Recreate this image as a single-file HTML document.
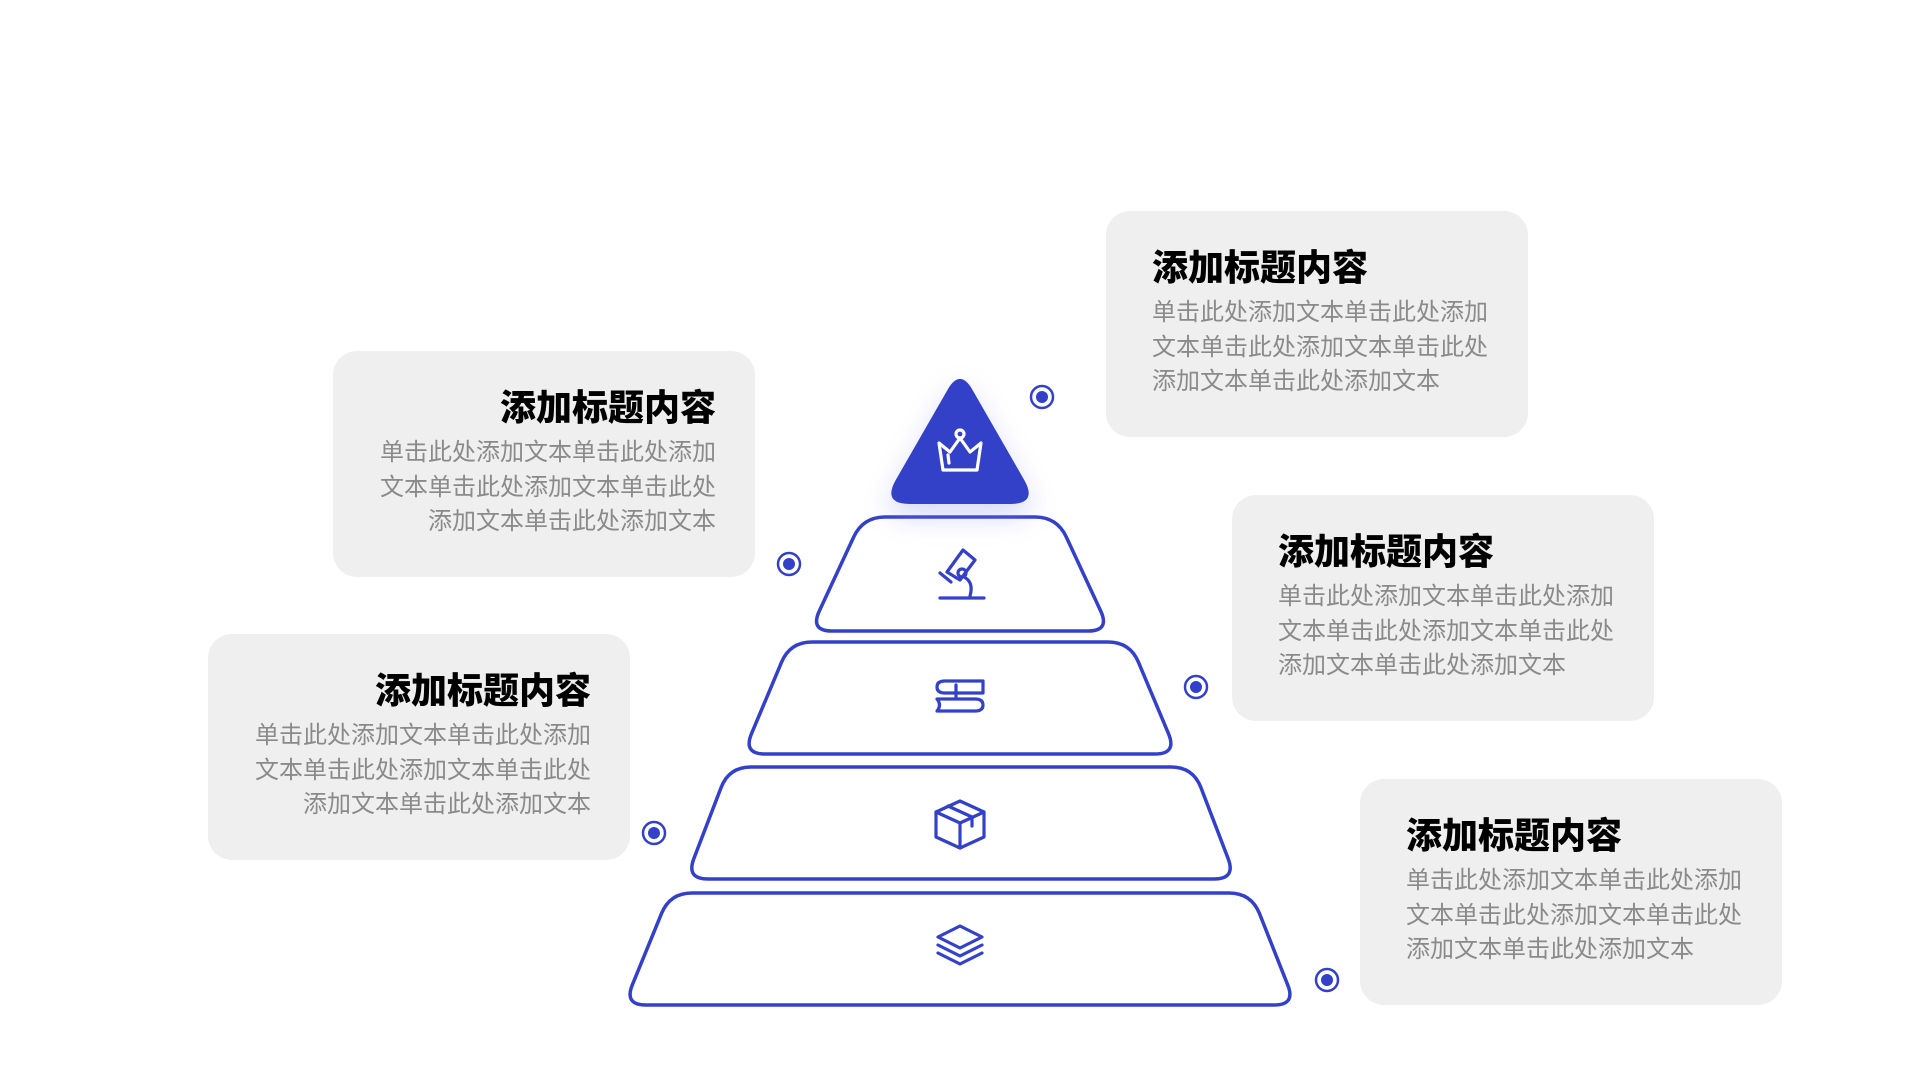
<!DOCTYPE html>
<html><head><meta charset="utf-8"><style>
body{margin:0;width:1920px;height:1080px;background:#fff;position:relative;overflow:hidden;font-family:"Liberation Sans","Noto Sans CJK SC",sans-serif}
.card{position:absolute;background:#efefef;border-radius:24px;width:422px;height:226px;box-sizing:border-box}
.card h3{position:absolute;margin:0;font-size:36px;font-weight:900;color:#000;top:35px;line-height:44px;white-space:nowrap}
.card p{position:absolute;margin:0;font-size:24px;color:#8a8a8a;top:85px;line-height:34.5px;white-space:nowrap}
.l h3,.l p{right:39px;text-align:right}
.r h3,.r p{left:46px}
</style></head><body>
<div class="card r" style="left:1106px;top:211px"><h3>添加标题内容</h3><p>单击此处添加文本单击此处添加<br>文本单击此处添加文本单击此处<br>添加文本单击此处添加文本</p></div>
<div class="card l" style="left:333px;top:351px"><h3>添加标题内容</h3><p>单击此处添加文本单击此处添加<br>文本单击此处添加文本单击此处<br>添加文本单击此处添加文本</p></div>
<div class="card r" style="left:1232px;top:495px"><h3>添加标题内容</h3><p>单击此处添加文本单击此处添加<br>文本单击此处添加文本单击此处<br>添加文本单击此处添加文本</p></div>
<div class="card l" style="left:208px;top:634px"><h3>添加标题内容</h3><p>单击此处添加文本单击此处添加<br>文本单击此处添加文本单击此处<br>添加文本单击此处添加文本</p></div>
<div class="card r" style="left:1360px;top:779px"><h3>添加标题内容</h3><p>单击此处添加文本单击此处添加<br>文本单击此处添加文本单击此处<br>添加文本单击此处添加文本</p></div>
<svg width="1920" height="1080" style="position:absolute;left:0;top:0">
<defs><filter id="sh" x="-50%" y="-50%" width="200%" height="200%"><feGaussianBlur stdDeviation="14"/></filter></defs>
<g fill="none" stroke="#3340c8" stroke-width="3.5">
<path d="M 885,517 L 1035,517 Q 1057,517 1066.3,537 L 1100.7,611 Q 1110,631 1088,631 L 832,631 Q 810,631 819.3,611 L 853.7,537 Q 863,517 885,517 Z"/>
<path d="M 812,642 L 1108,642 Q 1130,642 1138.5,662.3 L 1168.5,733.7 Q 1177,754 1155,754 L 765,754 Q 743,754 751.5,733.7 L 781.5,662.3 Q 790,642 812,642 Z"/>
<path d="M 751,767 L 1171,767 Q 1193,767 1200.9,787.5 L 1228.1,858.5 Q 1236,879 1214,879 L 708,879 Q 686,879 693.9,858.5 L 721.1,787.5 Q 729,767 751,767 Z"/>
<path d="M 692,893 L 1229,893 Q 1251,893 1259.4,913.3 L 1287.6,984.7 Q 1296,1005 1274,1005 L 646,1005 Q 624,1005 632.4,984.7 L 661.6,913.3 Q 670,893 692,893 Z"/>
</g>
<path d="M 947.6,389.7 Q 960,368 972.4,389.7 L 1024.1,479.7 Q 1038,504 1010,504 L 910,504 Q 882,504 895.9,479.7 Z" fill="#8890e8" opacity="0.35" filter="url(#sh)" transform="translate(0,12)"/>
<path d="M 947.6,389.7 Q 960,368 972.4,389.7 L 1024.1,479.7 Q 1038,504 1010,504 L 910,504 Q 882,504 895.9,479.7 Z" fill="#3340c8"/>
<g fill="none" stroke="#fff" stroke-width="3.2" stroke-linejoin="round" stroke-linecap="round">
<circle cx="960" cy="434" r="4"/>
<path d="M939,443 L950,452 L960,438 L970,452 L981,443 L977,470 L943,470 Z"/>
<path d="M948,455 L949,463"/>
</g>
<g fill="none" stroke="#3340c8" stroke-width="3.2" stroke-linejoin="round" stroke-linecap="round">
<path d="M947,572 L963,550 L975,560 L960,580 Z"/>
<circle cx="962" cy="573" r="4"/>
<path d="M964,577 Q974,582 970,596"/>
<path d="M940,573 L951,582"/>
<path d="M940,598 L984,598"/>
<path d="M945,681 L983,681 L983,693 L945,693 Q937,693 937,687 Q937,681 945,681 Z"/>
<path d="M956,685 L956,698"/>
<path d="M937,699 L975,699 Q983,699 983,705 Q983,711 975,711 L937,711 Q942,705 937,699 Z"/>
<path d="M960,801 L984,812 L984,837 L960,848 L936,837 L936,812 Z"/>
<path d="M936,812 L960,823 L984,812 M960,823 L960,848"/>
<path d="M948,806 L972,817 L972,826"/>
<path d="M960,926 L982,937 L960,948 L938,937 Z"/>
<path d="M938,945 L960,956 L982,945"/>
<path d="M938,953 L960,964 L982,953"/>
</g>
<g fill="#3340c8">
<circle cx="1042" cy="397" r="11" fill="none" stroke="#3340c8" stroke-width="2.5"/><circle cx="1042" cy="397" r="6"/>
<circle cx="789" cy="564" r="11" fill="none" stroke="#3340c8" stroke-width="2.5"/><circle cx="789" cy="564" r="6"/>
<circle cx="1196" cy="687" r="11" fill="none" stroke="#3340c8" stroke-width="2.5"/><circle cx="1196" cy="687" r="6"/>
<circle cx="654" cy="833" r="11" fill="none" stroke="#3340c8" stroke-width="2.5"/><circle cx="654" cy="833" r="6"/>
<circle cx="1327" cy="980" r="11" fill="none" stroke="#3340c8" stroke-width="2.5"/><circle cx="1327" cy="980" r="6"/>
</g>
</svg>
</body></html>
